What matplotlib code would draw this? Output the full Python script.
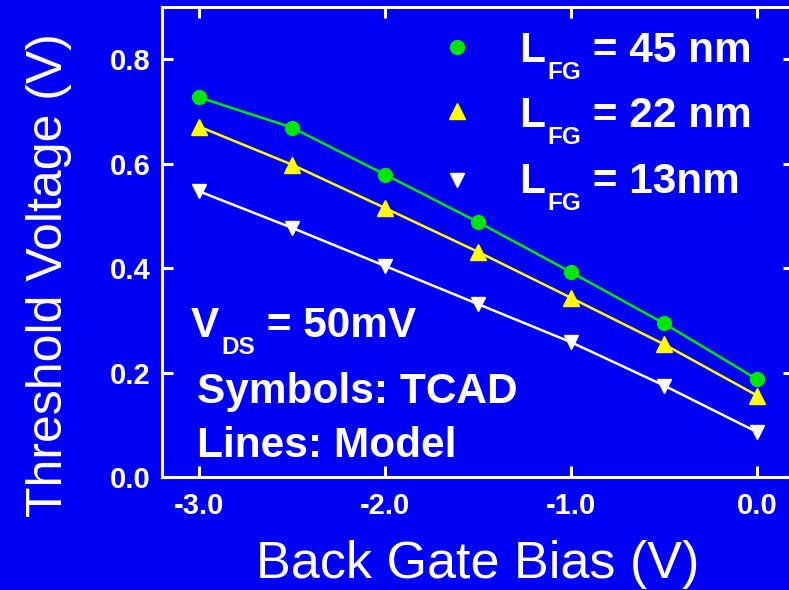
import numpy as np
import matplotlib
matplotlib.use('Agg')
import matplotlib.pyplot as plt

plt.rcParams['font.family'] = ['Liberation Sans', 'DejaVu Sans']

# back gate bias sweep (V)
vbg = [-3.0, -2.5, -2.0, -1.5, -1.0, -0.5, 0.0]

# TCAD threshold voltage (V) for each front gate length
vt_45 = [0.727, 0.669, 0.579, 0.488, 0.392, 0.294, 0.187]
vt_22 = [0.671, 0.598, 0.515, 0.431, 0.343, 0.254, 0.156]
vt_13 = [0.547, 0.477, 0.404, 0.331, 0.258, 0.175, 0.086]

lfg = ['45 nm', '22 nm', '13nm']
colors = ['#00E600', '#FFFF00', 'white']
markers = ['o', '^', 'v']
msizes = [10, 11.5, 10.5]

bg = '#0000F5'
fig = plt.figure(figsize=(7.89, 5.90), dpi=100, facecolor=bg)
ax = fig.add_axes([0.2053, 0.1915, 0.8015, 0.7966], facecolor=bg)

for y, c, m, ms in zip([vt_45, vt_22, vt_13], colors, markers, msizes):
    ax.plot(vbg, y, '-', color=c, linewidth=1.8)                     # model
    ax.plot(vbg, y, linestyle='none', marker=m, color=c, markersize=ms)  # TCAD

ax.set_xlim(-3.2, 0.2)
ax.set_ylim(0, 0.9)
ax.set_xticks([-3, -2, -1, 0])
ax.set_xticklabels(['-3.0', '-2.0', '-1.0', '0.0'])
ax.set_yticks([0, 0.2, 0.4, 0.6, 0.8])
ax.set_yticklabels(['0.0', '0.2', '0.4', '0.6', '0.8'])
ax.tick_params(direction='in', top=True, right=True, length=8, width=2.2,
               colors='white', labelsize=21)
ax.tick_params(axis='x', pad=11)
ax.tick_params(axis='y', pad=8)
for lab in ax.get_xticklabels() + ax.get_yticklabels():
    lab.set_fontweight('bold')
for s in ax.spines.values():
    s.set_color('white')
    s.set_linewidth(2.2)

ax.set_xlabel('Back Gate Bias (V)', fontsize=37.5, color='white')
ax.set_ylabel('Threshold Voltage (V)', fontsize=36, color='white')
ax.xaxis.set_label_coords(0.499, -0.135)
ax.yaxis.set_label_coords(-0.142, 0.43)


def sub_label(x, y, main, sub, rest, size=30.5, subsize=17.5):
    kw = dict(color='white', fontweight='bold')
    t1 = ax.text(x, y, main, fontsize=size, va='baseline', ha='left',
                 transform=ax.transAxes, **kw)
    t2 = ax.annotate(sub, xy=(1, 0.22), xycoords=t1, xytext=(1.5, 1),
                     textcoords='offset points', fontsize=subsize,
                     va='top', ha='left', **kw)
    ax.annotate(rest, xy=(1, 0), xycoords=(t2, t1), fontsize=size,
                va='bottom', ha='left', **kw)


# key: symbol + label rows
key_y = [0.915, 0.779, 0.632]
row_y = [0.883, 0.745, 0.604]
for c, m, ms, ky, ry, name in zip(colors, markers, msizes, key_y, row_y, lfg):
    ax.plot([0.467], [ky], linestyle='none', marker=m, color=c, markersize=ms,
            transform=ax.transAxes)
    sub_label(0.565, ry, 'L', 'FG', ' = ' + name)

sub_label(0.046, 0.298, 'V', 'DS', ' = 50mV')
ax.text(0.055, 0.157, 'Symbols: TCAD', fontsize=30.5, fontweight='bold',
        color='white', transform=ax.transAxes, va='baseline')
ax.text(0.055, 0.043, 'Lines: Model', fontsize=30.5, fontweight='bold',
        color='white', transform=ax.transAxes, va='baseline')

fig.savefig('out.png', dpi=100, facecolor=bg)
